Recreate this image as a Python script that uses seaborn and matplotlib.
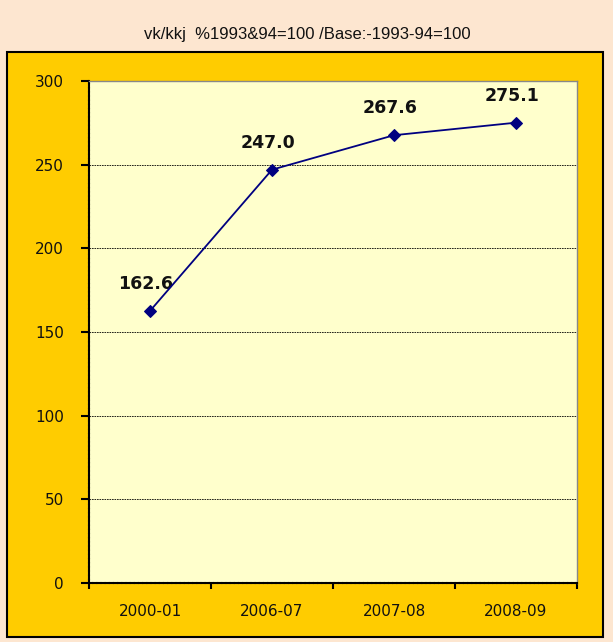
import matplotlib
matplotlib.use("Agg")
import matplotlib.pyplot as plt
import seaborn as sns
import pandas as pd
import numpy as np
from matplotlib.patches import Rectangle

categories = ["2000-01", "2006-07", "2007-08", "2008-09"]
values = [162.6, 247.0, 267.6, 275.1]
yticks = [0, 50, 100, 150, 200, 250, 300]
title = "vk/kkj  %1993&94=100 /Base:-1993-94=100"

sns.set_theme(style="white")
plt.rcParams['font.family'] = ['Liberation Sans', 'DejaVu Sans']

df = pd.DataFrame({"year": categories, "value": values})
df["pos"] = np.arange(len(categories))

fig = plt.figure(figsize=(6.13, 6.42), dpi=100)
fig.patch.set_facecolor("#FDE6D0")

# yellow chart area with black border
fig.patches.append(Rectangle((7/613, 1-637/642), (603-7)/613, (637-52)/642,
                             transform=fig.transFigure, facecolor="#FFCC00",
                             edgecolor="black", linewidth=1.5, zorder=-5))

fig.text(307/613, 1-34/642, title, ha="center", va="center", fontsize=12,
         color="#111111")

ax = fig.add_axes([89/613, 1-583/642, (577-89)/613, (583-81)/642])
ax.set_zorder(2)
ax.set_facecolor("#FFFFCC")

sns.lineplot(data=df, x="pos", y="value", ax=ax, color="#000080", linewidth=1.3,
             marker="D", markersize=6, markeredgecolor="#000080", zorder=5)

for i, v in enumerate(values):
    ax.annotate(f"{v:.1f}", (i, v), xytext=(-4, 27), textcoords="offset pixels",
                ha="center", va="center", fontsize=12.5, fontweight="bold",
                family="DejaVu Sans", color="#111111")

ax.set_xlim(-0.5, 3.5)
ax.set_ylim(0, 300)
ax.set_yticks(yticks)
ax.set_yticklabels([str(t) for t in yticks], family="DejaVu Sans")
ax.set_xticks(range(len(categories)))
ax.set_xticklabels(categories, family="DejaVu Sans")
ax.set_xticks(np.arange(-0.5, 3.6, 1), minor=True)
ax.tick_params(axis="x", which="both", bottom=True)
ax.tick_params(axis="y", which="major", left=True)
ax.tick_params(axis="x", which="major", length=0, pad=15, labelsize=11, labelcolor="#111111")
ax.tick_params(axis="x", which="minor", length=4.5, width=1.5, color="black", direction="out")
ax.tick_params(axis="y", which="major", length=6, width=1.5, color="black", direction="out",
               pad=12, labelsize=11, labelcolor="#111111")
ax.set_xlabel("")
ax.set_ylabel("")

for t in [50, 100, 150, 200, 250]:
    ax.axhline(t, color="black", linestyle=(0, (2, 1)), linewidth=0.6, zorder=1)

for s in ["left", "bottom"]:
    ax.spines[s].set_color("black")
    ax.spines[s].set_linewidth(1.5)
    ax.spines[s].set_linestyle((0, (1.5, 0.5)))
for s in ["top", "right"]:
    ax.spines[s].set_color("#888888")
    ax.spines[s].set_linewidth(1.0)
    ax.spines[s].set_visible(True)

fig.savefig("out.png", dpi=100, facecolor=fig.get_facecolor())
